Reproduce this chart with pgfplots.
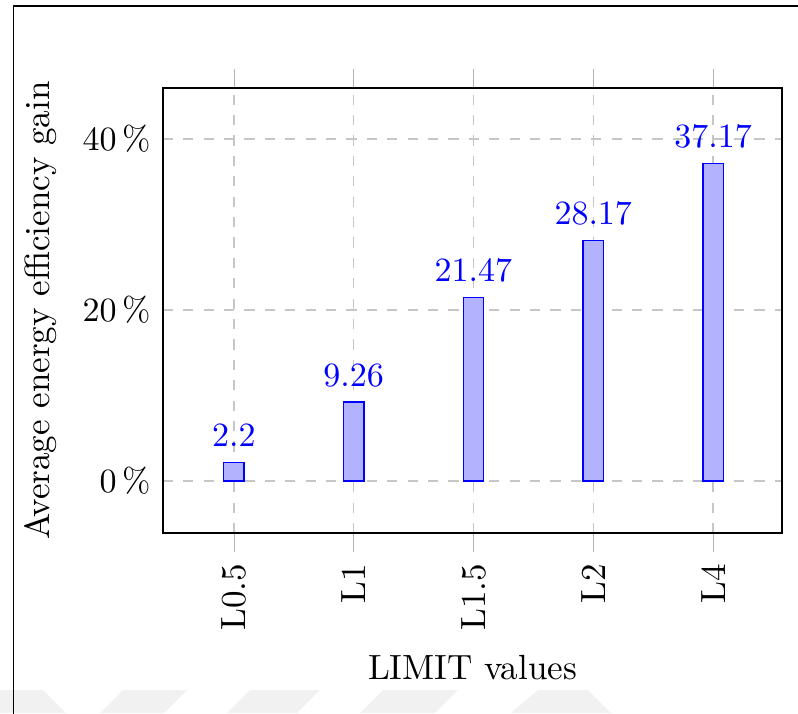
\documentclass[border=0pt]{standalone}
\usepackage{pgfplots}
\pgfplotsset{compat=1.18}
\begin{document}
\begin{tikzpicture}
\fontsize{10.3}{12.4}\selectfont
% page area and frame
\useasboundingbox (0,0) rectangle (234.7pt,209.7pt);
\begin{scope}
  \clip (0,0) rectangle (234.7pt,209.7pt);
  % faint watermark band along the bottom edge
  \begin{scope}[x=0.29412pt,y=-0.29412pt,yshift=209.7pt]
    \fill[gray!11] (0,690) -- (43,690) -- (66,713) -- (0,713) -- cycle;
    \fill[gray!11] (123,690) -- (187,690) -- (164,713) -- (100,713) -- cycle;
    \fill[gray!11] (250,690) -- (320,690) -- (297,713) -- (227,713) -- cycle;
    \fill[gray!11] (383,690) -- (458,690) -- (435,713) -- (360,713) -- cycle;
    \fill[gray!11] (538,690) -- (588,690) -- (611,713) -- (511,713) -- cycle;
    \draw[line width=0.55pt] (13.5,720) -- (13.5,6) -- (800,6);
  \end{scope}
\end{scope}
\begin{axis}[
  at={(47.9pt,52.9pt)}, anchor=south west,
  scale only axis, width=182.1pt, height=130.9pt,
  xmin=-0.593, xmax=4.576, ymin=-6.08, ymax=45.96,
  ybar, bar width=6pt,
  xtick={0,1,2,3,4},
  xticklabels={L0.5,L1,L1.5,L2,L4},
  x tick label style={rotate=90, anchor=east},
  ytick={0,20,40},
  yticklabel={$\pgfmathprintnumber{\tick}\,\%$},
  y tick label style={xshift=5.5pt},
  grid=major,
  grid style={gray!45, dashed},
  tick align=outside,
  major tick length=5.5pt,
  xtick style={gray!60},
  ytick style={draw=none},
  xlabel={LIMIT values},
  ylabel={Average energy efficiency gain},
  ylabel style={at={(axis description cs:-0.151,0.5)}, anchor=south},
  nodes near coords,
  every node near coord/.append style={blue, yshift=1pt},
]
\addplot[draw=blue, fill=blue!30]
  coordinates {(0,2.2) (1,9.26) (2,21.47) (3,28.17) (4,37.17)};
\end{axis}
\end{tikzpicture}
\end{document}
